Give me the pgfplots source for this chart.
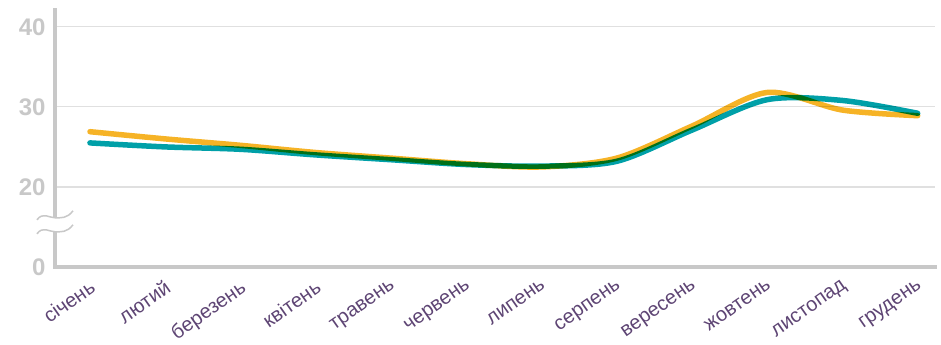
\documentclass[border=0pt]{standalone}
\usepackage{pgfplots}
\pgfplotsset{compat=1.18}
\usepackage{fontspec}
\setmainfont{Liberation Sans}
\definecolor{cor}{HTML}{F6B326}
\definecolor{cteal}{HTML}{00A0A8}
\definecolor{cpurp}{HTML}{5E4574}
\definecolor{cgrey}{HTML}{C8C8C8}
\definecolor{cgrid}{HTML}{E0E0E0}
\begin{document}
\begin{tikzpicture}
\begin{axis}[
  scale only axis,
  width=880pt, height=257pt,
  xmin=-0.465, xmax=11.23,
  ymin=10, ymax=42.1,
  axis x line*=bottom, axis y line*=left,
  axis line style={cgrey, line width=3.5pt, line cap=rect},
  x axis line style={-}, y axis line style={-},
  xtick={0,...,11},
  xticklabels={січень,лютий,березень,квітень,травень,червень,липень,серпень,вересень,жовтень,листопад,грудень},
  x tick label style={rotate=35, anchor=north east, font=\fontsize{20}{20}\selectfont, text=cpurp, inner sep=1pt, yshift=-7.5pt, xshift=-7pt},
  ytick={20,30,40},
  extra y ticks={10}, extra y tick labels={0},
  extra y tick style={grid=none},
  y tick label style={font=\fontsize{24}{24}\selectfont\bfseries, text=cgrey, anchor=east, xshift=-6pt},
  /pgf/number format/assume math mode=true,
  ymajorgrids,
  major grid style={cgrid, line width=1.2pt},
  major tick length=0pt,
  clip=false,
]
\addplot[cor, line width=5.5pt, smooth, tension=0.5, line cap=round, /tikz/blend mode=multiply] coordinates {
(0,26.9) (1,26.0) (2,25.2) (3,24.3) (4,23.6) (5,22.9) (6,22.5) (7,23.6) (8,27.6) (9,31.8) (10,29.6) (11,28.9)};
\addplot[cteal, line width=5.5pt, smooth, tension=0.5, line cap=round, /tikz/blend mode=multiply] coordinates {
(0,25.5) (1,25.0) (2,24.7) (3,24.0) (4,23.4) (5,22.8) (6,22.6) (7,23.2) (8,27.1) (9,30.9) (10,30.8) (11,29.2)};
% axis break
\fill[white] ([shift={(-18pt,-4pt)}]axis cs:-0.465,16.4) .. controls +(6pt,8pt) and +(-6pt,0pt) .. ++(18pt,2pt) .. controls +(6pt,0pt) and +(-6pt,-8pt) .. ++(18pt,7pt)
  -- ++(0pt,-14pt) .. controls +(-6pt,-8pt) and +(6pt,0pt) .. ++(-18pt,-7pt) .. controls +(-6pt,0pt) and +(6pt,8pt) .. ++(-18pt,-2pt) -- cycle;
\draw[cgrey, line width=1.5pt] ([shift={(-18pt,-4pt)}]axis cs:-0.465,16.4) .. controls +(6pt,8pt) and +(-6pt,0pt) .. ++(18pt,2pt) .. controls +(6pt,0pt) and +(-6pt,-8pt) .. ++(18pt,7pt);
\draw[cgrey, line width=1.5pt] ([shift={(-18pt,-18pt)}]axis cs:-0.465,16.4) .. controls +(6pt,8pt) and +(-6pt,0pt) .. ++(18pt,2pt) .. controls +(6pt,0pt) and +(-6pt,-8pt) .. ++(18pt,7pt);
\end{axis}
\pgfresetboundingbox
\path ([shift={(-55pt,-77pt)}]current axis.south west) rectangle ([shift={(6pt,10pt)}]current axis.north east);
\end{tikzpicture}
\end{document}
